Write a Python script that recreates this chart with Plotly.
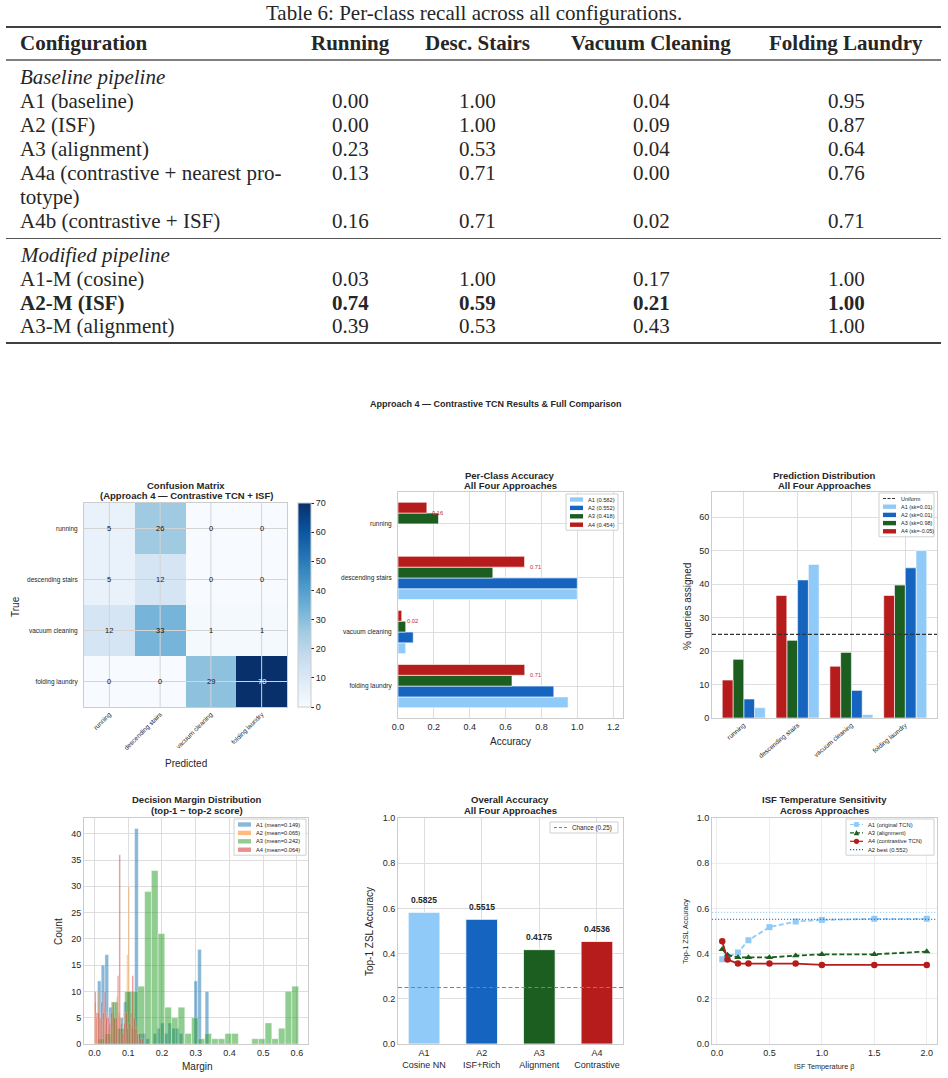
import numpy as np
import plotly.graph_objects as go

W, H = 948, 1078
SANS = "Liberation Sans, Arial, sans-serif"
SERIF = "Liberation Serif, Times New Roman, serif"
TXT = "#262626"

# ---------------- Table 6 data ----------------
table_title = "Table 6: Per-class recall across all configurations."
table_header = ["Configuration", "Running", "Desc. Stairs", "Vacuum Cleaning", "Folding Laundry"]
baseline_names = ["A1 (baseline)", "A2 (ISF)", "A3 (alignment)",
                  "A4a (contrastive + nearest pro-", "A4b (contrastive + ISF)"]
baseline_wrap = {3: "totype)"}
baseline_recall = [
    [0.00, 1.00, 0.04, 0.95],
    [0.00, 1.00, 0.09, 0.87],
    [0.23, 0.53, 0.04, 0.64],
    [0.13, 0.71, 0.00, 0.76],
    [0.16, 0.71, 0.02, 0.71],
]
modified_names = ["A1-M (cosine)", "A2-M (ISF)", "A3-M (alignment)"]
modified_recall = [
    [0.03, 1.00, 0.17, 1.00],
    [0.74, 0.59, 0.21, 1.00],
    [0.39, 0.53, 0.43, 1.00],
]
best_modified = 1

# ---------------- figure data ----------------
suptitle = "Approach 4 — Contrastive TCN Results & Full Comparison"
classes = ["running", "descending stairs", "vacuum cleaning", "folding laundry"]
approaches = ["A1", "A2", "A3", "A4"]
colors = ["#90CAF9", "#1565C0", "#1B5E20", "#B71C1C"]

cm_counts = [[5, 26, 0, 0],
             [5, 12, 0, 0],
             [12, 33, 1, 1],
             [0, 0, 29, 70]]

acc_a1 = [0.000, 1.000, 0.043, 0.949]
acc_a2 = [0.000, 1.000, 0.085, 0.869]
acc_a3 = [0.226, 0.529, 0.043, 0.636]
acc_a4 = [0.161, 0.706, 0.021, 0.707]
overall_acc = [0.5825, 0.5515, 0.4175, 0.4536]
legend_acc = ["0.582", "0.552", "0.418", "0.454"]

pred_a1 = [3.09, 45.88, 1.03, 50.00]
pred_a2 = [5.67, 41.24, 8.25, 44.85]
pred_a3 = [17.53, 23.20, 19.59, 39.69]
pred_a4 = [11.34, 36.60, 15.46, 36.60]
pred_skew = ["0.01", "0.01", "0.98", "-0.05"]
uniform_pct = 25

# decision margin histograms (30 bins each over its own range)
margin_means = [0.149, 0.065, 0.242, 0.064]
margin_ranges = [(0.009, 0.339), (0.0, 0.130), (0.010, 0.605), (0.0, 0.145)]
margin_a1 = [12, 15, 17, 7, 5, 3, 5, 8, 10, 3, 41, 2, 2, 1, 0,
             2, 3, 4, 2, 4, 3, 3, 2, 0, 0, 0, 12, 18, 0, 10]
margin_a2 = [8, 5, 10, 6, 3, 5, 7, 4, 6, 3, 5, 2, 6, 4, 8,
             9, 6, 5, 3, 2, 6, 5, 17, 30, 4, 10, 5, 3, 3, 4]
margin_a3 = [1, 2, 8, 3, 10, 10, 11, 29, 33, 21, 7, 5, 7, 2, 5,
             1, 2, 1, 1, 2, 2, 0, 0, 1, 1, 4, 1, 3, 10, 11]
margin_a4 = [10, 6, 6, 5, 8, 6, 10, 5, 5, 4, 6, 8, 5, 5, 13,
             36, 4, 2, 4, 6, 3, 4, 6, 13, 5, 3, 2, 2, 1, 1]
hist_colors = ["#1f77b4", "#ff7f0e", "#2ca02c", "#d62728"]
HIST_ALPHA = 0.52

overall_ticks = ["A1<br>Cosine NN", "A2<br>ISF+Rich", "A3<br>Alignment", "A4<br>Contrastive"]
chance = 0.25

beta = [0.05, 0.1, 0.2, 0.3, 0.5, 0.75, 1.0, 1.5, 2.0]
isf_a1 = [0.375, 0.385, 0.405, 0.459, 0.517, 0.542, 0.549, 0.554, 0.554]
isf_a3 = [0.419, 0.394, 0.383, 0.383, 0.383, 0.391, 0.397, 0.397, 0.409]
isf_a4 = [0.455, 0.374, 0.356, 0.356, 0.356, 0.356, 0.350, 0.350, 0.350]
a1_best = 0.5825
a2_best = 0.552

DASH = "5px,2.5px"
DOT = "1.2px,1.8px"


def fx(p):
    return p / W


def fy(p):
    return 1 - p / H


ann, shp = [], []


def text(x, y, s, size, family=SANS, color=TXT, xanchor="center", yanchor="middle", angle=0):
    ann.append(dict(x=fx(x), y=fy(y), xref="paper", yref="paper", text=s, showarrow=False,
                    font=dict(family=family, size=size, color=color),
                    xanchor=xanchor, yanchor=yanchor, textangle=angle, borderpad=0))


def hline(y, x0, x1, width, color="black"):
    shp.append(dict(type="line", xref="paper", yref="paper", x0=fx(x0), x1=fx(x1),
                    y0=fy(y), y1=fy(y), line=dict(color=color, width=width)))


def title2(cx, y, l1, l2):
    text(cx, y, f"<b>{l1}</b>", 9.5)
    text(cx, y + 10.5, f"<b>{l2}</b>", 9.5)


def legend_box(right, top, width, items, fs=6, pitch=8.4):
    left = right - width
    pad = 5.5
    bottom = top + 2 * pad + (len(items) - 1) * pitch
    shp.append(dict(type="rect", xref="paper", yref="paper", x0=fx(left), x1=fx(right),
                    y0=fy(bottom), y1=fy(top), layer="above",
                    line=dict(color="#d0d0d0", width=1), fillcolor="rgba(255,255,255,0.85)"))
    for i, it in enumerate(items):
        cy = top + pad + i * pitch
        x0, x1 = left + 4, left + 17
        if it["kind"] == "patch":
            shp.append(dict(type="rect", xref="paper", yref="paper", layer="above",
                            x0=fx(x0), x1=fx(x1), y0=fy(cy + 2.2), y1=fy(cy - 2.2),
                            fillcolor=it["color"], opacity=it.get("opacity", 1),
                            line=dict(width=0)))
        else:
            shp.append(dict(type="line", xref="paper", yref="paper", layer="above",
                            x0=fx(x0), x1=fx(x1), y0=fy(cy), y1=fy(cy),
                            line=dict(color=it["color"], width=it.get("width", 1.2),
                                      dash=it.get("dash", "solid"))))
            sym = it.get("symbol")
            mx = (x0 + x1) / 2
            if sym == "square":
                shp.append(dict(type="rect", xref="paper", yref="paper", layer="above",
                                x0=fx(mx - 2.4), x1=fx(mx + 2.4), y0=fy(cy + 2.4), y1=fy(cy - 2.4),
                                fillcolor=it["color"], line=dict(width=0)))
            elif sym == "circle":
                shp.append(dict(type="circle", xref="paper", yref="paper", layer="above",
                                x0=fx(mx - 2.6), x1=fx(mx + 2.6), y0=fy(cy + 2.6), y1=fy(cy - 2.6),
                                fillcolor=it["color"], line=dict(width=0)))
            elif sym == "triangle":
                path = (f"M {fx(mx - 2.8)} {fy(cy + 2.4)} L {fx(mx + 2.8)} {fy(cy + 2.4)} "
                        f"L {fx(mx)} {fy(cy - 2.8)} Z")
                shp.append(dict(type="path", xref="paper", yref="paper", layer="above",
                                path=path, fillcolor=it["color"], line=dict(width=0)))
        text(x1 + 4, cy, it["label"], fs, xanchor="left")


# ---------------- table ----------------
col_x = [350, 478, 651, 846]
TS = 21
text(474, 13, table_title, TS, SERIF)
hline(27, 6, 941, 1.6)
text(19, 43, f"<b>{table_header[0]}</b>", TS, SERIF, xanchor="left")
for cx, h in zip(col_x, table_header[1:]):
    text(cx, 43, f"<b>{h}</b>", TS, SERIF)
hline(60, 6, 941, 1)
text(19, 77, "<i>Baseline pipeline</i>", TS, SERIF, xanchor="left")
y = 101
for i, (name, vals) in enumerate(zip(baseline_names, baseline_recall)):
    text(19, y, name, TS, SERIF, xanchor="left")
    for cx, v in zip(col_x, vals):
        text(cx, y, f"{v:.2f}", TS, SERIF)
    y += 24
    if i in baseline_wrap:
        text(19, y, baseline_wrap[i], TS, SERIF, xanchor="left")
        y += 24
hline(238.5, 6, 941, 1.2, "#555555")
text(19, 255, "<i>Modified pipeline</i>", TS, SERIF, xanchor="left")
y = 279
for i, (name, vals) in enumerate(zip(modified_names, modified_recall)):
    b0, b1 = ("<b>", "</b>") if i == best_modified else ("", "")
    text(19, y, f"{b0}{name}{b1}", TS, SERIF, xanchor="left")
    for cx, v in zip(col_x, vals):
        text(cx, y, f"{b0}{v:.2f}{b1}", TS, SERIF)
    y += 23.6
hline(343, 6, 941, 1.6)

# ---------------- figure ----------------
fig = go.Figure()

# 1) confusion matrix
blues = ["#f7fbff", "#deebf7", "#c6dbef", "#9ecae1", "#6baed6",
         "#4292c6", "#2171b5", "#08519c", "#08306b"]
fig.add_trace(go.Heatmap(
    z=cm_counts, x=[0, 1, 2, 3], y=[0, 1, 2, 3], zmin=0, zmax=70,
    colorscale=[[i / 8, c] for i, c in enumerate(blues)],
    xaxis="x", yaxis="y", hoverinfo="skip",
    colorbar=dict(x=fx(298), xanchor="left", y=fy(605), yanchor="middle",
                  len=204 / H, lenmode="fraction", thickness=13, xpad=0, ypad=0,
                  outlinecolor="#cccccc", outlinewidth=1, ticks="outside", ticklen=3,
                  tickcolor=TXT, tickvals=list(range(0, 71, 10)),
                  tickfont=dict(family=SANS, size=9, color=TXT))))
for k in range(4):
    shp.append(dict(type="line", xref="x", yref="y", x0=k, x1=k, y0=-0.5, y1=3.5,
                    line=dict(color="#d4d4d4", width=1), layer="above"))
    shp.append(dict(type="line", xref="x", yref="y", x0=-0.5, x1=3.5, y0=k, y1=k,
                    line=dict(color="#d4d4d4", width=1), layer="above"))
for r, row in enumerate(cm_counts):
    for c, v in enumerate(row):
        ann.append(dict(x=c, y=r, xref="x", yref="y", text=str(v), showarrow=False,
                        font=dict(family=SANS, size=7.5, color="white" if v > 35 else "#111111")))

# 2) per-class accuracy (horizontal)
hpos = [3, 2, 1, 0]
offs = [-0.3, -0.1, 0.1, 0.3]
for k, acc in enumerate([acc_a1, acc_a2, acc_a3, acc_a4]):
    fig.add_trace(go.Bar(x=acc, y=[p + offs[k] for p in hpos], width=0.2, orientation="h",
                         marker=dict(color=colors[k], line=dict(color="white", width=0.6)),
                         xaxis="x2", yaxis="y2", hoverinfo="skip"))
for v, p in zip(acc_a4, hpos):
    ann.append(dict(x=v + 0.02, y=p + 0.21, xref="x2", yref="y2", text=f"{v:.2f}",
                    showarrow=False, xanchor="left", yanchor="middle",
                    font=dict(family=SANS, size=5.7, color="#c62828")))

# 3) prediction distribution
voffs = [0.3, 0.1, -0.1, -0.3]
for k, pr in enumerate([pred_a1, pred_a2, pred_a3, pred_a4]):
    fig.add_trace(go.Bar(x=[i + voffs[k] for i in range(4)], y=pr, width=0.2,
                         marker=dict(color=colors[k], line=dict(color="white", width=0.6)),
                         xaxis="x3", yaxis="y3", hoverinfo="skip"))
shp.append(dict(type="line", xref="x3 domain", yref="y3", x0=0, x1=1,
                y0=uniform_pct, y1=uniform_pct,
                line=dict(color="#333333", width=1.2, dash="4px,2px"), layer="above"))

# 4) decision margin histograms
for k, counts in enumerate([margin_a1, margin_a2, margin_a3, margin_a4]):
    lo, hi = margin_ranges[k]
    edges = np.linspace(lo, hi, len(counts) + 1)
    centers = (edges[:-1] + edges[1:]) / 2
    fig.add_trace(go.Bar(x=centers, y=counts, width=edges[1] - edges[0],
                         marker=dict(color=hist_colors[k], line=dict(color="white", width=0.4)),
                         opacity=HIST_ALPHA, xaxis="x4", yaxis="y4", hoverinfo="skip"))

# 5) overall accuracy
fig.add_trace(go.Bar(x=[0, 1, 2, 3], y=overall_acc, width=0.55,
                     marker=dict(color=colors, line=dict(color="white", width=0.8)),
                     xaxis="x5", yaxis="y5", hoverinfo="skip"))
for i, v in enumerate(overall_acc):
    ann.append(dict(x=i, y=v + 0.025, xref="x5", yref="y5", text=f"<b>{v:.4f}</b>",
                    showarrow=False, yanchor="bottom",
                    font=dict(family=SANS, size=8.5, color=TXT)))
shp.append(dict(type="line", xref="x5 domain", yref="y5", x0=0, x1=1, y0=chance, y1=chance,
                line=dict(color="#808080", width=1, dash="4px,2.5px"), layer="above"))

# 6) ISF temperature sensitivity
fig.add_trace(go.Scatter(x=beta, y=isf_a1, mode="lines+markers", xaxis="x6", yaxis="y6",
                         line=dict(color=colors[0], width=1.8, dash=DASH),
                         marker=dict(symbol="square", size=6, color=colors[0]), hoverinfo="skip"))
fig.add_trace(go.Scatter(x=beta, y=isf_a3, mode="lines+markers", xaxis="x6", yaxis="y6",
                         line=dict(color=colors[2], width=1.8, dash=DASH),
                         marker=dict(symbol="triangle-up", size=6.5, color=colors[2]), hoverinfo="skip"))
fig.add_trace(go.Scatter(x=beta, y=isf_a4, mode="lines+markers", xaxis="x6", yaxis="y6",
                         line=dict(color=colors[3], width=1.8),
                         marker=dict(symbol="circle", size=6.5, color=colors[3]), hoverinfo="skip"))
shp.append(dict(type="line", xref="x6 domain", yref="y6", x0=0, x1=1, y0=a2_best, y1=a2_best,
                line=dict(color=colors[1], width=1.2, dash=DOT), layer="above"))
shp.append(dict(type="line", xref="x6 domain", yref="y6", x0=0, x1=1, y0=a1_best, y1=a1_best,
                line=dict(color=colors[0], width=1, dash=DOT), layer="above"))

# ---------------- titles, axis labels, legends ----------------
text(496, 404, f"<b>{suptitle}</b>", 9)
title2(186, 485, "Confusion Matrix", "(Approach 4 — Contrastive TCN + ISF)")
title2(510, 475, "Per-Class Accuracy", "All Four Approaches")
title2(824, 475, "Prediction Distribution", "All Four Approaches")
title2(197, 800, "Decision Margin Distribution", "(top-1 − top-2 score)")
title2(510, 800, "Overall Accuracy", "All Four Approaches")
title2(824, 800, "ISF Temperature Sensitivity", "Across Approaches")

text(186, 763, "Predicted", 10)
text(15, 607, "True", 10, angle=-90)
text(510, 741, "Accuracy", 10)
text(687, 607, "% queries assigned", 10, angle=-90)
text(197, 1066, "Margin", 10)
text(58, 932, "Count", 10, angle=-90)
text(369, 932, "Top-1 ZSL Accuracy", 10, angle=-90)
text(824, 1066, "ISF Temperature β", 7.3)
text(685, 932, "Top-1 ZSL Accuracy", 7.3, angle=-90)

legend_box(618, 494, 52, [dict(kind="patch", color=colors[k],
                               label=f"{approaches[k]} ({legend_acc[k]})") for k in range(4)],
           fs=5.7)
legend_box(934, 493, 55, [dict(kind="line", color="#333333", dash="3px,1.5px", label="Uniform")] +
           [dict(kind="patch", color=colors[k], label=f"{approaches[k]} (sk={pred_skew[k]})")
            for k in range(4)], fs=5.5, pitch=8.2)
legend_box(306, 819, 72, [dict(kind="patch", color=hist_colors[k], opacity=HIST_ALPHA,
                               label=f"{approaches[k]} (mean={margin_means[k]:.3f})") for k in range(4)],
           fs=5.7)
legend_box(618, 822, 68, [dict(kind="line", color="#808080", dash="3px,2px", width=1,
                               label=f"Chance ({chance})")], fs=6.3)
legend_box(934, 819, 88, [
    dict(kind="line", color=colors[0], dash="4px,2px", symbol="square", label="A1 (original TCN)"),
    dict(kind="line", color=colors[2], dash="4px,2px", symbol="triangle", label="A3 (alignment)"),
    dict(kind="line", color=colors[3], symbol="circle", label="A4 (contrastive TCN)"),
    dict(kind="line", color=colors[1], dash=DOT, label=f"A2 best ({a2_best})"),
], fs=5.8)


# ---------------- axes ----------------
def axis(xd, anchor, **kw):
    d = dict(domain=xd, anchor=anchor, showline=True, mirror=True, linecolor="#cccccc",
             linewidth=1, showgrid=True, gridcolor="#dedede", gridwidth=1, zeroline=False,
             ticks="", tickfont=dict(family=SANS, size=9, color=TXT))
    d.update(kw)
    return d


def dom_x(a, b):
    return [fx(a), fx(b)]


def dom_y(top, bottom):
    return [fy(bottom), fy(top)]


small = dict(family=SANS, size=6.5, color=TXT)
layout = dict(
    xaxis=axis(dom_x(84, 287), "y", range=[-0.5, 3.5], tickvals=[0, 1, 2, 3],
               ticktext=classes, tickangle=-45, tickfont=small, showgrid=False),
    yaxis=axis(dom_y(503, 707), "x", range=[3.5, -0.5], tickvals=[0, 1, 2, 3],
               ticktext=classes, tickfont=small, showgrid=False, ticklabelstandoff=4),
    xaxis2=axis(dom_x(398, 623), "y2", range=[0, 1.255], dtick=0.2, tickformat=".1f"),
    yaxis2=axis(dom_y(492, 718), "x2", range=[-0.59, 3.59], tickvals=hpos,
                ticktext=classes, tickfont=small, ticklabelstandoff=4),
    xaxis3=axis(dom_x(712, 937), "y3", range=[-0.59, 3.59], tickvals=[0, 1, 2, 3],
                ticktext=classes, tickangle=-40, tickfont=small),
    yaxis3=axis(dom_y(492, 718), "x3", range=[0, 67.5], dtick=10),
    xaxis4=axis(dom_x(84, 308), "y4", range=[-0.031, 0.633], dtick=0.1, tickformat=".1f"),
    yaxis4=axis(dom_y(818, 1044), "x4", range=[0, 43], dtick=5),
    xaxis5=axis(dom_x(398, 623), "y5", range=[-0.4525, 3.4525], tickvals=[0, 1, 2, 3],
                ticktext=overall_ticks),
    yaxis5=axis(dom_y(818, 1044), "x5", range=[0, 1], dtick=0.2, tickformat=".1f"),
    xaxis6=axis(dom_x(712, 937), "y6", range=[-0.0475, 2.0975], dtick=0.5, tickformat=".1f",
                gridcolor="#ececec"),
    yaxis6=axis(dom_y(818, 1044), "x6", range=[0, 1], dtick=0.2, tickformat=".1f",
                gridcolor="#ececec"),
)

fig.update_layout(
    width=W, height=H, margin=dict(l=0, r=0, t=0, b=0, autoexpand=False),
    paper_bgcolor="white", plot_bgcolor="white", showlegend=False, hovermode=False,
    barmode="overlay", font=dict(family=SANS, color=TXT),
    annotations=ann, shapes=shp, **layout)

fig.write_html("out.html", config={"displayModeBar": False},
               post_script="document.body.style.margin='0';")
